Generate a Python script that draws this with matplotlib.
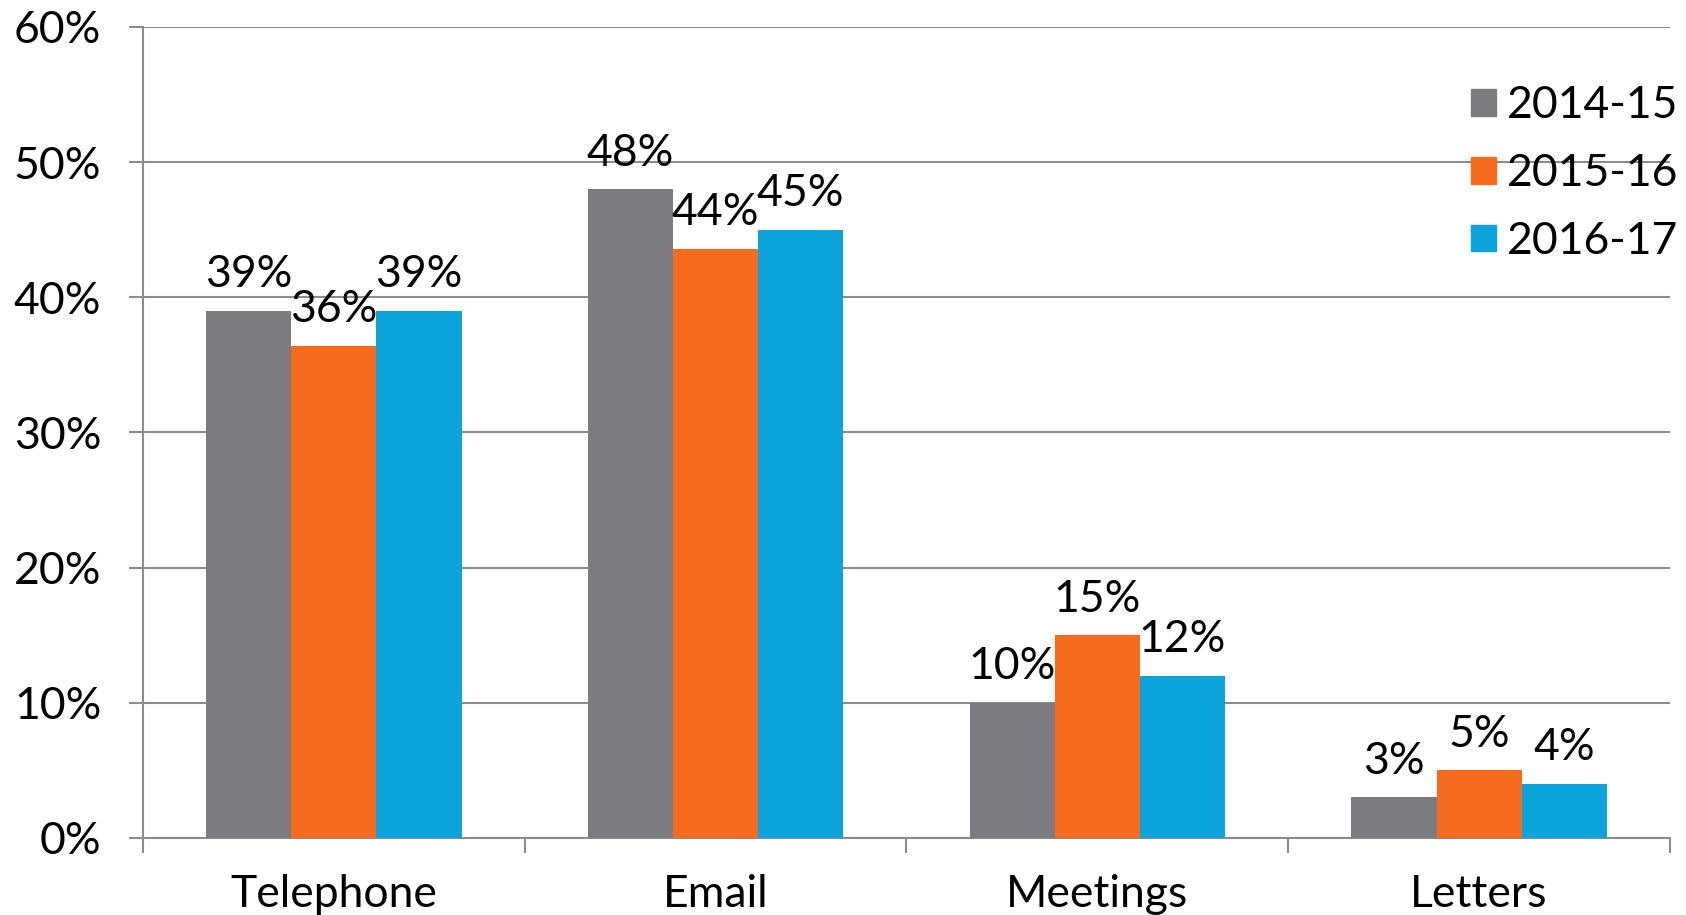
import matplotlib
matplotlib.use("Agg")
import matplotlib.pyplot as plt
import numpy as np
from matplotlib.patches import Patch

categories = ["Telephone", "Email", "Meetings", "Letters"]
series_names = ["2014-15", "2015-16", "2016-17"]
v_2014 = [39.0, 48.0, 10.0, 3.0]
v_2015 = [36.4, 43.6, 15.0, 5.0]
v_2016 = [39.0, 45.0, 12.0, 4.0]
labels_2014 = ["39%", "48%", "10%", "3%"]
labels_2015 = ["36%", "44%", "15%", "5%"]
labels_2016 = ["39%", "45%", "12%", "4%"]
colors = ["#7C7C80", "#F76B1E", "#0AA3DA"]

FS = 32
plt.rcParams['font.family'] = ['Lato', 'DejaVu Sans']
fig = plt.figure(figsize=(16.86, 9.15), dpi=100)
ax = fig.add_axes([0.0848, 0.0842, 0.9057, 0.8863])

x = np.arange(len(categories))
w = 0.223
allv = [v_2014, v_2015, v_2016]
alll = [labels_2014, labels_2015, labels_2016]
for i, (vals, labs) in enumerate(zip(allv, alll)):
    bars = ax.bar(x + (i - 1) * w, vals, width=w, color=colors[i], zorder=3,
                  label=series_names[i])
    for b, lab in zip(bars, labs):
        ax.annotate(lab, (b.get_x() + b.get_width() / 2, b.get_height()),
                    xytext=(0, 17), textcoords="offset points",
                    ha="center", va="baseline", fontsize=FS, color="black", zorder=5)

ax.set_xlim(-0.5, 3.5)
ax.set_ylim(0, 60)
ax.set_yticks(np.arange(0, 61, 10))
ax.set_yticklabels([f"{t}%" for t in range(0, 61, 10)])
ax.set_xticks(np.arange(-0.5, 3.6, 1.0))
ax.set_xticklabels([])
ax.set_xticks(x, minor=True)
ax.set_xticklabels(categories, minor=True)
ax.tick_params(axis="x", which="major", length=11, color="#8C8C8C", width=1.5, direction="out")
ax.tick_params(axis="x", which="minor", length=0, pad=26, labelsize=FS)
ax.tick_params(axis="y", length=10, color="#8C8C8C", width=1.5, pad=20, labelsize=FS)
ax.grid(axis="y", color="#8C8C8C", linewidth=1.5, zorder=0)
for s in ["top", "right"]:
    ax.spines[s].set_visible(False)
for s in ["left", "bottom"]:
    ax.spines[s].set_color("#8C8C8C")
    ax.spines[s].set_linewidth(1.5)

handles = [Patch(color=c) for c in colors]
leg = ax.legend(handles, series_names, loc="upper right", bbox_to_anchor=(1.017, 0.95),
                frameon=False, fontsize=FS, handlelength=0.55, handleheight=0.55,
                handletextpad=0.25, labelspacing=0.6, borderaxespad=0)

fig.savefig("out.png", dpi=100, facecolor="white")
